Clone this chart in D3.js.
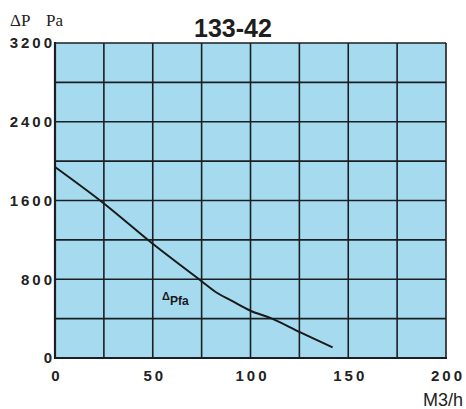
<!DOCTYPE html>
<html>
<head>
<meta charset="utf-8">
<script src="https://cdn.jsdelivr.net/npm/d3@7"></script>
<style>
  html, body { margin: 0; padding: 0; background: #fff; }
  svg { display: block; }
</style>
</head>
<body>
<div id="chart"></div>
<script>
const title = "133-42";
const flow = [0, 25, 50, 75, 83, 90, 100, 111, 125, 142];
const pressure = [1940, 1570, 1160, 780, 660, 585, 480, 400, 265, 108];
const xGrid = [0, 25, 50, 75, 100, 125, 150, 175, 200];
const yGrid = [0, 400, 800, 1200, 1600, 2000, 2400, 2800, 3200];
const xTicks = [0, 50, 100, 150, 200];
const yTicks = [0, 800, 1600, 2400, 3200];

const W = 466, H = 409;
const svg = d3.select("#chart").append("svg").attr("width", W).attr("height", H);

const x = d3.scaleLinear().domain([0, 200]).range([55, 446]);
const y = d3.scaleLinear().domain([0, 3200]).range([358, 43]);

// background
svg.append("rect")
  .attr("x", x(0)).attr("y", y(3200))
  .attr("width", x(200) - x(0)).attr("height", y(0) - y(3200))
  .attr("fill", "#a6dbef");

// grid
svg.append("g").selectAll("line").data(xGrid).join("line")
  .attr("x1", d => x(d)).attr("x2", d => x(d))
  .attr("y1", y(0)).attr("y2", y(3200))
  .attr("stroke", "#1a1f24").attr("stroke-width", 1.6);
svg.append("g").selectAll("line").data(yGrid).join("line")
  .attr("y1", d => y(d)).attr("y2", d => y(d))
  .attr("x1", x(0)).attr("x2", x(200))
  .attr("stroke", "#1a1f24").attr("stroke-width", 1.6);

// frame left/bottom thicker
svg.append("line").attr("x1", x(0)).attr("x2", x(0)).attr("y1", y(3200) - 1).attr("y2", y(0) + 1)
  .attr("stroke", "#1a1f24").attr("stroke-width", 2.2);
svg.append("line").attr("x1", x(0) - 1).attr("x2", x(200) + 1).attr("y1", y(0)).attr("y2", y(0))
  .attr("stroke", "#1a1f24").attr("stroke-width", 2.2);

// curve
const pts = flow.map((f, i) => [f, pressure[i]]);
svg.append("path")
  .datum(pts)
  .attr("fill", "none")
  .attr("stroke", "#1a1a1a")
  .attr("stroke-width", 2)
  .attr("d", d3.line().x(d => x(d[0])).y(d => y(d[1])).curve(d3.curveMonotoneX));

// y tick labels
svg.append("g").selectAll("text").data(yTicks).join("text")
  .attr("x", 55).attr("y", d => y(d))
  .attr("dy", "0.36em")
  .attr("text-anchor", "end")
  .attr("font-family", "Liberation Sans, Arial, sans-serif")
  .attr("font-weight", "bold").attr("font-size", 15)
  .attr("letter-spacing", 3)
  .attr("fill", "#222")
  .text(d => d);

// x tick labels
svg.append("g").selectAll("text").data(xTicks).join("text")
  .attr("x", d => x(d) + 2).attr("y", 381)
  .attr("text-anchor", "middle")
  .attr("font-family", "Liberation Sans, Arial, sans-serif")
  .attr("font-weight", "bold").attr("font-size", 15)
  .attr("letter-spacing", 3)
  .attr("fill", "#222")
  .text(d => d);

// title
svg.append("text").attr("x", 233).attr("y", 37)
  .attr("text-anchor", "middle")
  .attr("font-family", "Liberation Sans, Arial, sans-serif")
  .attr("font-weight", "bold").attr("font-size", 25)
  .attr("fill", "#1e1e1e")
  .text(title);

// y axis unit
svg.append("text").attr("x", 10).attr("y", 26)
  .attr("font-family", "Liberation Serif, Times New Roman, serif")
  .attr("font-size", 17).attr("fill", "#222")
  .text("ΔP");
svg.append("text").attr("x", 46).attr("y", 26)
  .attr("font-family", "Liberation Serif, Times New Roman, serif")
  .attr("font-size", 17).attr("fill", "#222")
  .text("Pa");

// x axis unit
svg.append("text").attr("x", 463).attr("y", 406)
  .attr("text-anchor", "end")
  .attr("font-family", "Liberation Sans, Arial, sans-serif")
  .attr("font-size", 18).attr("fill", "#222")
  .text("M3/h");

// curve label
const lbl = svg.append("text").attr("x", 162).attr("y", 300)
  .attr("font-family", "Liberation Sans, Arial, sans-serif")
  .attr("font-weight", "bold").attr("fill", "#1a1a1a");
lbl.append("tspan").attr("font-size", 11).text("Δ");
lbl.append("tspan").attr("font-size", 12).attr("dy", 5).text("Pfa");
</script>
</body>
</html>
